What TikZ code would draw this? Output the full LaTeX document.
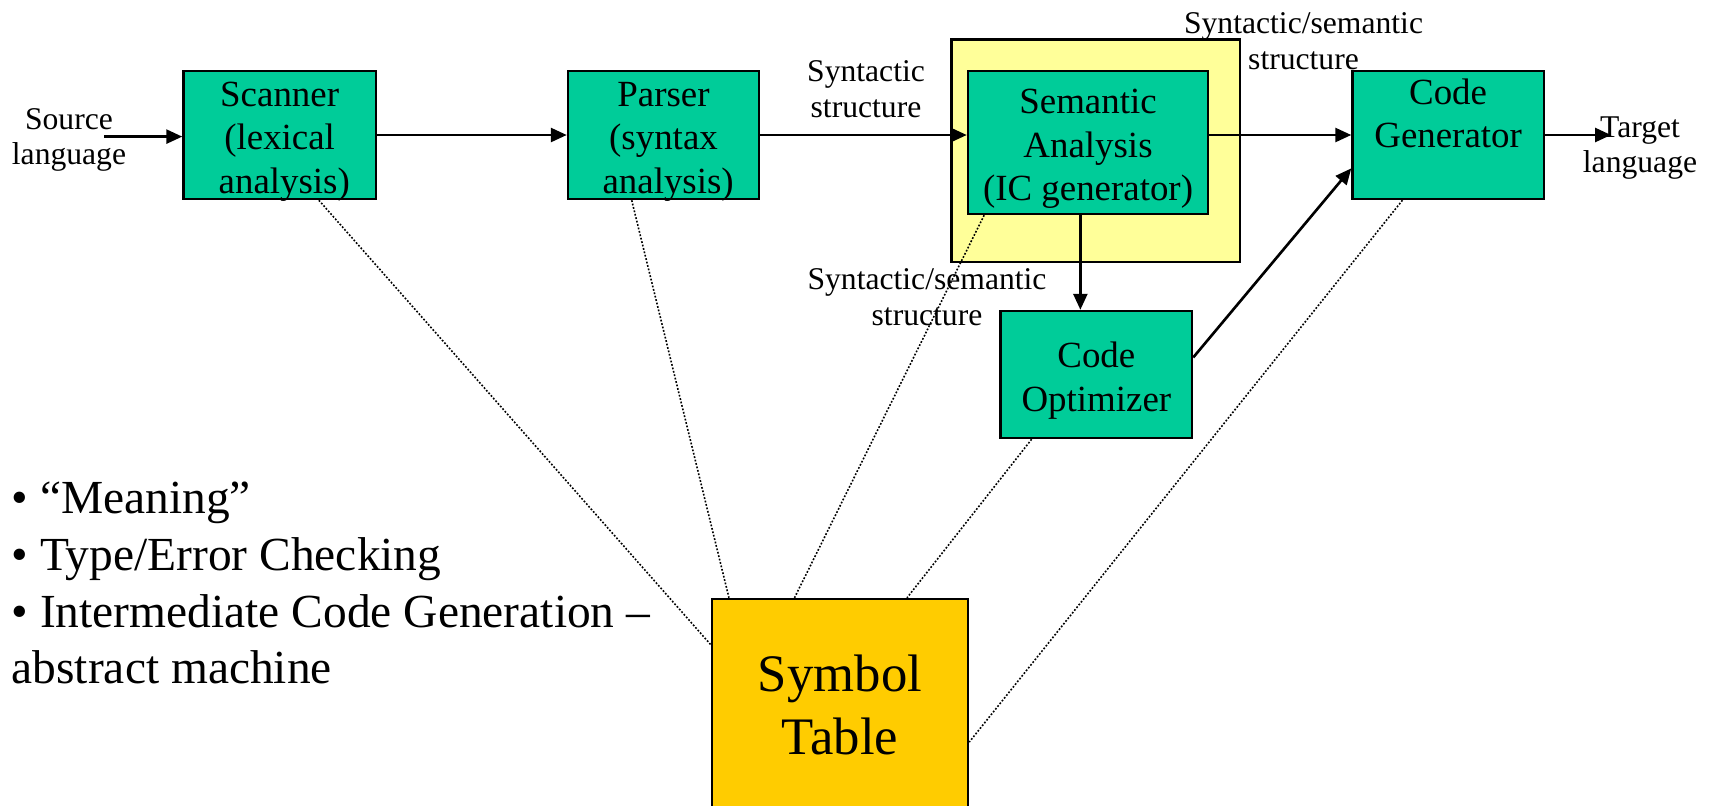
\documentclass[tikz,border=0pt]{standalone}
\usepackage{fontspec}
\setmainfont{Liberation Serif}
\usetikzlibrary{arrows.meta}

\definecolor{stagegreen}{RGB}{0,204,153}
\definecolor{icyellow}{RGB}{255,255,153}
\definecolor{tablegold}{RGB}{255,204,0}

% taller first line, pushes the box text down a little
\newcommand{\capgap}{\rule{0pt}{10.6pt}}

\begin{document}
\begin{tikzpicture}[
        stage/.style={draw, line width=0.7pt, fill=stagegreen, inner xsep=0pt, inner ysep=-3pt, align=center,
            font=\fontsize{10.5}{12.4}\selectfont},
        tag/.style={align=center, inner sep=0pt, font=\fontsize{9}{10.2}\selectfont},
        flow/.style={-{Triangle[length=1.6mm, width=1.4mm]}, line width=0.75pt},
        lookup/.style={line width=0.45pt, dash pattern=on 0.5pt off 0.5pt}
    ]
        \useasboundingbox (0,0) rectangle (17.13,-8.05);

        % phases of the compiler
        \node[draw, line width=0.7pt, fill=icyellow, minimum width=2.884cm, minimum height=2.227cm] (icbox) at (10.958,-1.5065) {};
        \node[stage, minimum width=1.923cm, minimum height=1.28cm] (scanner) at (2.7965,-1.35) {\capgap Scanner\\(lexical\\~analysis)};
        \node[stage, minimum width=1.91cm, minimum height=1.28cm] (parser) at (6.635,-1.35) {\capgap Parser\\(syntax\\~analysis)};
        \node[stage, minimum width=2.40cm, minimum height=1.43cm] (semantic) at (10.88,-1.425) {\capgap Semantic\\Analysis\\(IC generator)};
        \node[stage, minimum width=1.912cm, minimum height=1.28cm] (codegen) at (14.481,-1.35) {Code\\Generator\\~};
        \node[stage, minimum width=1.913cm, minimum height=1.27cm] (optimizer) at (10.9635,-3.745) {\capgap Code\\Optimizer};
        \node[draw, line width=0.7pt, fill=tablegold, minimum width=2.56cm, minimum height=2.12cm, inner sep=0pt, align=center,
            font=\fontsize{15}{17.9}\selectfont] (symtab) at (8.40,-7.05) {Symbol\\Table};

        % texts beside the arrows
        \node[tag] (srclang) at (0.69,-1.40) {Source\\language};
        \node[tag] (synstruct) at (8.66,-0.89) {Syntactic\\structure};
        \node[tag] (semstructtop) at (13.035,-0.41) {Syntactic/semantic\\structure};
        \node[tag] (semstructlow) at (9.27,-2.97) {Syntactic/semantic\\structure};
        \node[tag] (tgtlang) at (16.40,-1.48) {Target\\language};

        \node[anchor=west, inner sep=0pt, align=left, font=\fontsize{13.5}{16.2}\selectfont] (notes) at (0.11,-5.83)
            {• “Meaning”\\• Type/Error Checking\\• Intermediate Code Generation –\\abstract machine};

        \coordinate (srcin) at (1.04,-1.366);
        \coordinate (tgtout) at (16.11,-1.35);

        % main flow
        \draw[flow] (srcin) -- (srcin -| scanner.west);
        \draw[flow] (scanner.east) -- (parser.west);
        \draw[flow] (parser.east) -- (semantic.west |- parser.east);
        \draw[flow] (semantic.east |- codegen.west) -- (codegen.west);
        \draw[flow] (codegen.east) -- (tgtout);
        \draw[flow] (semantic.-96.4) -- (semantic.-96.4 |- optimizer.north);
        \draw[flow] (optimizer.10.4) -- (codegen.199.6);

        % symbol table lookups
        \draw[lookup] (scanner.-59.7) -- (symtab.155.6);
        \draw[lookup] (parser.-116.6) -- (symtab.136.7);
        \draw[lookup] (semantic.-145.75) -- (symtab.113.9);
        \draw[lookup] (optimizer.-135.8) -- (symtab.58.6);
        \draw[lookup] (codegen.-125.9) -- (symtab.-16.5);
\end{tikzpicture}
\end{document}
